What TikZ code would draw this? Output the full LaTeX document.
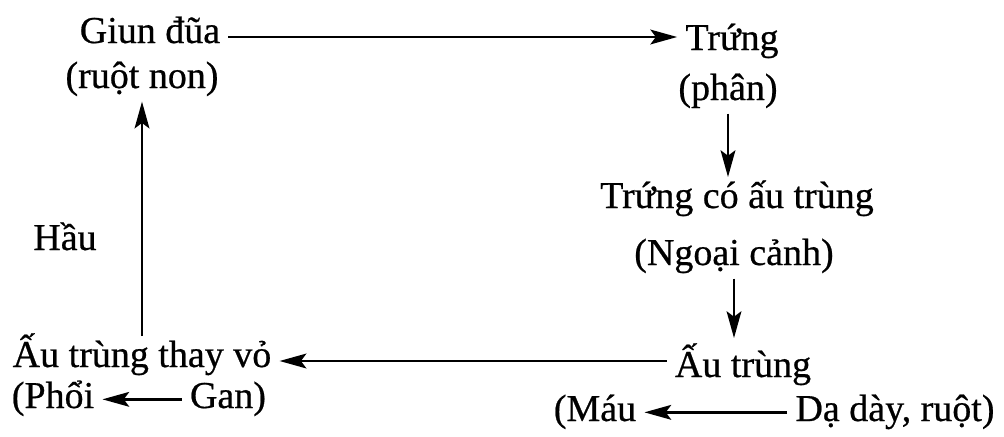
\documentclass[tikz,border=0pt]{standalone}
\usepackage{fontspec}
\setmainfont[FakeBold=0.6]{Liberation Serif}
\usetikzlibrary{arrows.meta}
\tikzset{
  lbl/.style={anchor=base, inner xsep=6pt, inner ysep=3pt,
    text height=20pt, text depth=7pt,
    font=\fontsize{28.5pt}{30pt}\selectfont},
  arr/.style={line width=2.2pt, -{Stealth[length=20pt,width=11pt,inset=4pt]}}
}
\begin{document}
\begin{tikzpicture}[x=0.75pt,y=-0.75pt]
\useasboundingbox (0,0) rectangle (1004,436);
\node[lbl] (giun) at (150,43) {Giun đũa};
\node[lbl] (ruot) at (142,88) {(ruột non)};
\node[lbl] (trung) at (732,50) {Trứng};
\node[lbl] (phan) at (728,100) {(phân)};
\node[lbl] (tcau) at (737,208) {Trứng có ấu trùng};
\node[lbl] (ngoai) at (734,265) {(Ngoại cảnh)};
\node[lbl] (au) at (743,377) {Ấu trùng};
\node[lbl] (mau) at (595,421) {(Máu};
\node[lbl] (daday) at (895,421) {Dạ dày, ruột)};
\node[lbl] (thayvo) at (142,367) {Ấu trùng thay vỏ};
\node[lbl] (phoi) at (53,408) {(Phổi};
\node[lbl] (gan) at (228,408) {Gan)};
\node[lbl] (hau) at (65,250) {Hầu};
\draw[arr] ([yshift=-2pt]giun.east) -- ([yshift=-2pt]giun.east -| trung.west);
\draw[arr] (phan.south) -- (phan.south |- tcau.north);
\draw[arr, shorten >=6pt] (ngoai.south) -- (ngoai.south |- au.north);
\draw[arr] ([yshift=-2pt]thayvo.east -| au.west) -- ([yshift=-2pt]thayvo.east);
\draw[arr] (thayvo.north) -- (thayvo.north |- ruot.south);
\draw[arr] (gan.west) -- (phoi.east);
\draw[arr] (daday.west) -- (mau.east);
\end{tikzpicture}
\end{document}
